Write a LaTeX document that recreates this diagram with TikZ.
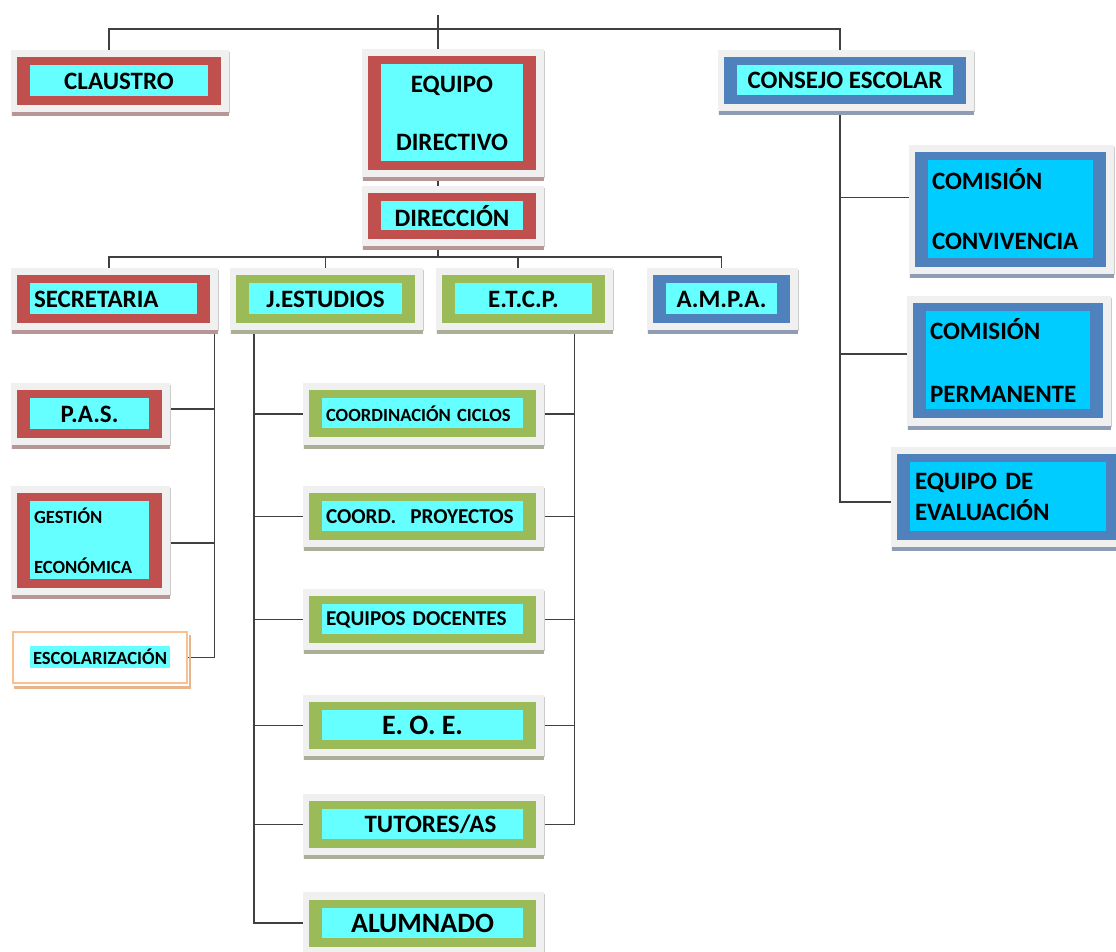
\documentclass[tikz,border=0pt]{standalone}
\usepackage{fontspec}
\setmainfont{Carlito}
\usetikzlibrary{backgrounds,calc}

\definecolor{redframe}{HTML}{C0504D}
\definecolor{greenframe}{HTML}{9BBB59}
\definecolor{blueframe}{HTML}{4F81BD}
\definecolor{lightcyan}{HTML}{66FFFF}
\definecolor{deepcyan}{HTML}{00CCFF}
\definecolor{orangeframe}{HTML}{FAC090}
\definecolor{orangeshade}{HTML}{E8B48C}
\definecolor{halogray}{HTML}{F0F0F0}
\definecolor{redshade}{HTML}{B99696}
\definecolor{greenshade}{HTML}{A9B096}
\definecolor{blueshade}{HTML}{8E9CB4}
\definecolor{wiregray}{HTML}{404040}

\pgfdeclarelayer{wires}
\pgfsetlayers{wires,background,main}

\begin{document}
\begin{tikzpicture}[x=0.5pt,y=-0.5pt,
  font=\bfseries\fontsize{12.5}{15}\selectfont,
  core/.style={path picture={\fill[#1] ($(path picture bounding box.south west)+(6.5pt,4.5pt)$) rectangle ($(path picture bounding box.north east)+(-6.5pt,-4pt)$);}},
  orgbox/.style={rectangle, inner sep=0pt, align=center, text=black},
  redbox/.style={orgbox, fill=redframe, core=lightcyan},
  greenbox/.style={orgbox, fill=greenframe, core=lightcyan, minimum width=113.5pt, minimum height=23.5pt},
  bluebox/.style={orgbox, fill=blueframe, core=lightcyan},
  comision/.style={orgbox, fill=blueframe, core=deepcyan, align=left},
  smalltxt/.style={font=\bfseries\fontsize{9.3}{11}\selectfont},
  midtxt/.style={font=\bfseries\fontsize{10.6}{13}\selectfont},
  bigtxt/.style={font=\bfseries\fontsize{14}{17}\selectfont},
  wire/.style={draw=wiregray, line width=0.9pt}
]
\useasboundingbox (0,0) rectangle (1116,952);

% top level
\node[redbox, minimum width=102pt, minimum height=24pt] (claustro) at (119,81) {CLAUSTRO};
\node[redbox, minimum width=84pt, minimum height=57pt, font=\bfseries\fontsize{12.5}{29}\selectfont] (equipo) at (452,113) {EQUIPO\\DIRECTIVO};
\node[redbox, minimum width=84pt, minimum height=23pt] (direccion) at (452,216) {DIRECCIÓN};
\node[bluebox, minimum width=121pt, minimum height=23.5pt] (consejo) at (845,80.5) {CONSEJO ESCOLAR};

% second row
\node[redbox, minimum width=96.5pt, minimum height=24pt, text width=79.5pt, align=left] (secretaria) at (113.5,299) {SECRETARIA};
\node[greenbox, minimum width=89.5pt, minimum height=24pt] (jestudios) at (325.5,299) {J.ESTUDIOS};
\node[greenbox, minimum width=81.5pt, minimum height=24pt] (etcp) at (523.5,299) {E.T.C.P.};
\node[bluebox, minimum width=68.5pt, minimum height=24pt] (ampa) at (721.5,299) {A.M.P.A.};

% consejo escolar
\node[comision, minimum width=95.5pt, minimum height=57.5pt, text width=78.5pt, font=\bfseries\fontsize{12.5}{30}\selectfont] (convivencia) at (1010.5,209.5) {COMISIÓN\\CONVIVENCIA};
\node[comision, minimum width=95pt, minimum height=57.5pt, text width=78pt, font=\bfseries\fontsize{12.5}{31.5}\selectfont] (permanente) at (1008,361) {COMISIÓN\\PERMANENTE};
\node[comision, minimum width=111pt, minimum height=43pt, text width=93pt, font=\bfseries\fontsize{12.5}{15.5}\selectfont] (evaluacion) at (1008,497) {EQUIPO DE\\EVALUACIÓN};

% secretaria
\node[redbox, minimum width=72.5pt, minimum height=24pt] (pas) at (89.5,414) {P.A.S.};
\node[redbox, minimum width=72.5pt, minimum height=47.5pt, text width=55.5pt, align=left, font=\bfseries\fontsize{9.3}{25}\selectfont] (gestion) at (89.5,540.5) {GESTIÓN\\ECONÓMICA};
\node[orgbox, fill=white, draw=orangeframe, line width=1pt, minimum width=87pt, minimum height=25.5pt, smalltxt] (escolar) at (100,657.5) {\raisebox{2.25pt}{\setlength{\fboxsep}{1.5pt}\colorbox{lightcyan}{ESCOLARIZACIÓN}}};

% jefatura de estudios
\node[greenbox, smalltxt, text width=96.5pt, align=left] (ciclos) at (422.5,414) {COORDINACIÓN CICLOS};
\node[greenbox, midtxt, text width=96.5pt, align=left] (proyectos) at (422.5,516.5) {COORD.~~PROYECTOS};
\node[greenbox, midtxt, text width=96.5pt, align=left] (docentes) at (422.5,619.5) {EQUIPOS DOCENTES};
\node[greenbox, bigtxt] (eoe) at (422.5,725.5) {E. O. E.};
\node[greenbox] (tutores) at (422.5,824.5) {\hspace*{8pt}TUTORES/AS};
\node[greenbox, bigtxt] (alumnado) at (422.5,923) {ALUMNADO};

% halos and shadows
\begin{scope}[on background layer]
\foreach \n/\s in {claustro/redshade, equipo/redshade, direccion/redshade, secretaria/redshade, pas/redshade, gestion/redshade,
                   jestudios/greenshade, etcp/greenshade, ciclos/greenshade, proyectos/greenshade, docentes/greenshade, eoe/greenshade, tutores/greenshade, alumnado/greenshade,
                   consejo/blueshade, ampa/blueshade, convivencia/blueshade, permanente/blueshade, evaluacion/blueshade}{
  \fill[halogray] ([shift={(-6,-7)}]\n.north west) rectangle ([shift={(8,11)}]\n.south east);
  \fill[\s] ([shift={(-5,7)}]\n.south west) rectangle ([shift={(8,11)}]\n.south east);
  \draw[gray!40, line width=0.5pt] ([shift={(8,-5)}]\n.north east) -- ([shift={(8,8)}]\n.south east);
}
\fill[orangeshade] ([shift={(2,2)}]escolar.south west) rectangle ([shift={(3,5)}]escolar.south east);
\fill[orangeshade] ([shift={(1,4)}]escolar.north east) rectangle ([shift={(3,5)}]escolar.south east);
\end{scope}

% connectors
\begin{pgfonlayer}{wires}
\coordinate (top) at (438,15);
\coordinate (topbar) at (438,29);
\coordinate (dirbar) at (438,257);
\draw[wire] (top) -- (top |- equipo.north);
\draw[wire] ([shift={(-10,0)}]claustro.north) |- (topbar) -| ([shift={(-5,0)}]consejo.north);
\draw[wire] (top |- equipo.south) -- (top |- direccion.north);
\draw[wire] (top |- direccion.south) -- (dirbar);
\draw[wire] ([shift={(-4.5,0)}]secretaria.north) |- (dirbar) -| (ampa.north);
\draw[wire] (dirbar -| jestudios.north) -- (jestudios.north);
\draw[wire] ([shift={(-5.5,0)}]etcp.north) -- ($(dirbar -| etcp.north)+(-5.5,0)$);

\draw[wire] ([shift={(4,4)}]secretaria.south east) coordinate (secbus) |- (escolar.east);
\draw[wire] ($(pas.east)+(4,-5)$) -- ($(pas.east -| secbus)+(0,-5)$);
\draw[wire] ($(gestion.east)+(4,2.5)$) -- ($(gestion.east -| secbus)+(0,2.5)$);

\draw[wire] ([shift={(18,4)}]jestudios.south west) coordinate (jebus) |- (alumnado.west);
\foreach \n in {ciclos,proyectos,docentes,eoe,tutores}
  \draw[wire] (\n.west) -- (\n.west -| jebus);

\draw[wire] ([shift={(-31,4)}]etcp.south east) coordinate (etbus) |- (tutores.east);
\foreach \n in {ciclos,proyectos,docentes,eoe}
  \draw[wire] (\n.east) -- (\n.east -| etbus);

\draw[wire] ([shift={(-5,4)}]consejo.south) coordinate (cebus) |- ($(evaluacion.west)+(0,5)$);
\draw[wire] ($(convivencia.west)+(0,-12)$) -- ($(convivencia.west -| cebus)+(0,-12)$);
\draw[wire] ($(permanente.west)+(0,-7)$) -- ($(permanente.west -| cebus)+(0,-7)$);
\end{pgfonlayer}
\end{tikzpicture}
\end{document}
